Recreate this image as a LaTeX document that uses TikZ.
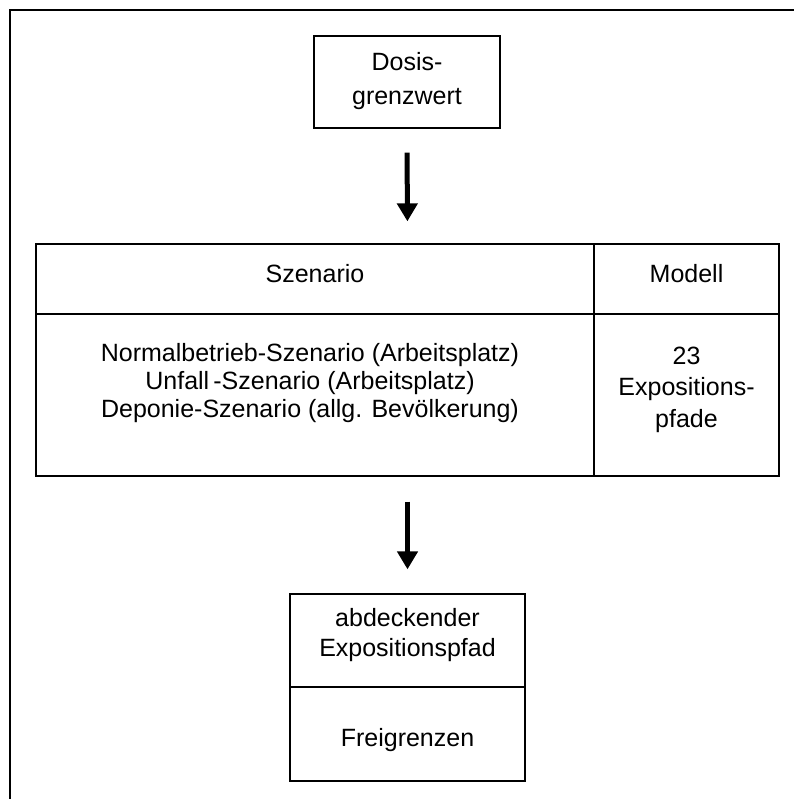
\documentclass[tikz,border=0pt]{standalone}
\usepackage{fontspec}
\setmainfont{Liberation Sans}
\usetikzlibrary{arrows.meta}
\begin{document}
\begin{tikzpicture}[x=1pt,y=-1pt,
  cell/.style={draw,line width=1.3pt,rectangle,inner sep=0pt},
  txt/.style={inner sep=0pt,align=center},
  arr/.style={line width=5pt,-{Triangle[length=18pt,width=20pt]}}]
\useasboundingbox (0,0) rectangle (793,799);
\draw[line width=2pt] (10,810) -- (10,10) -- (810,10);
% Dosis box
\node[cell,minimum width=186pt,minimum height=92pt] (dosis) at (407,82) {};
\node[txt,font=\fontsize{25}{34}\selectfont] (dosist) at (407,81.5) {Dosis-\\grenzwert};
% table
\node[cell,minimum width=743pt,minimum height=232pt] (tbl) at (407.5,360) {};
\node[cell,minimum width=558pt,minimum height=70pt] (sz) at (315,279) {};
\node[cell,minimum width=185pt,minimum height=70pt] (mo) at (686.5,279) {};
\node[cell,minimum width=558pt,minimum height=162pt] (szb) at (315,395) {};
\node[cell,minimum width=185pt,minimum height=162pt] (mob) at (686.5,395) {};
\node[txt,font=\fontsize{25}{28}\selectfont] (szt) at (315,274) {Szenario};
\node[txt,font=\fontsize{25}{28}\selectfont] (mot) at (686.5,274) {Modell};
\node[txt,font=\fontsize{25}{28}\selectfont] (szbt) at (310,383.5) {Normalbetrieb-Szenario (Arbeitsplatz)\\Unfall\,-Szenario (Arbeitsplatz)\\Deponie-Szenario (allg. Bevölkerung)};
\node[txt,font=\fontsize{25}{31.5}\selectfont] (mobt) at (686.5,389.5) {23\\Expositions-\\pfade};
% bottom box
\node[cell,minimum width=235pt,minimum height=93pt] (abd) at (407.5,640.5) {};
\node[cell,minimum width=235pt,minimum height=94pt] (frei) at (407.5,734) {};
\node[txt,font=\fontsize{25}{30}\selectfont] (abdt) at (407.5,635.5) {abdeckender\\Expositionspfad};
\node[txt,font=\fontsize{25}{30}\selectfont] (freit) at (407.5,740.5) {Freigrenzen};
% arrows
\draw[arr,shorten <=24pt,shorten >=22pt] (dosis.south) -- (tbl.north);
\draw[arr,shorten <=25pt,shorten >=24pt] (tbl.south) -- (abd.north);
\end{tikzpicture}
\end{document}
